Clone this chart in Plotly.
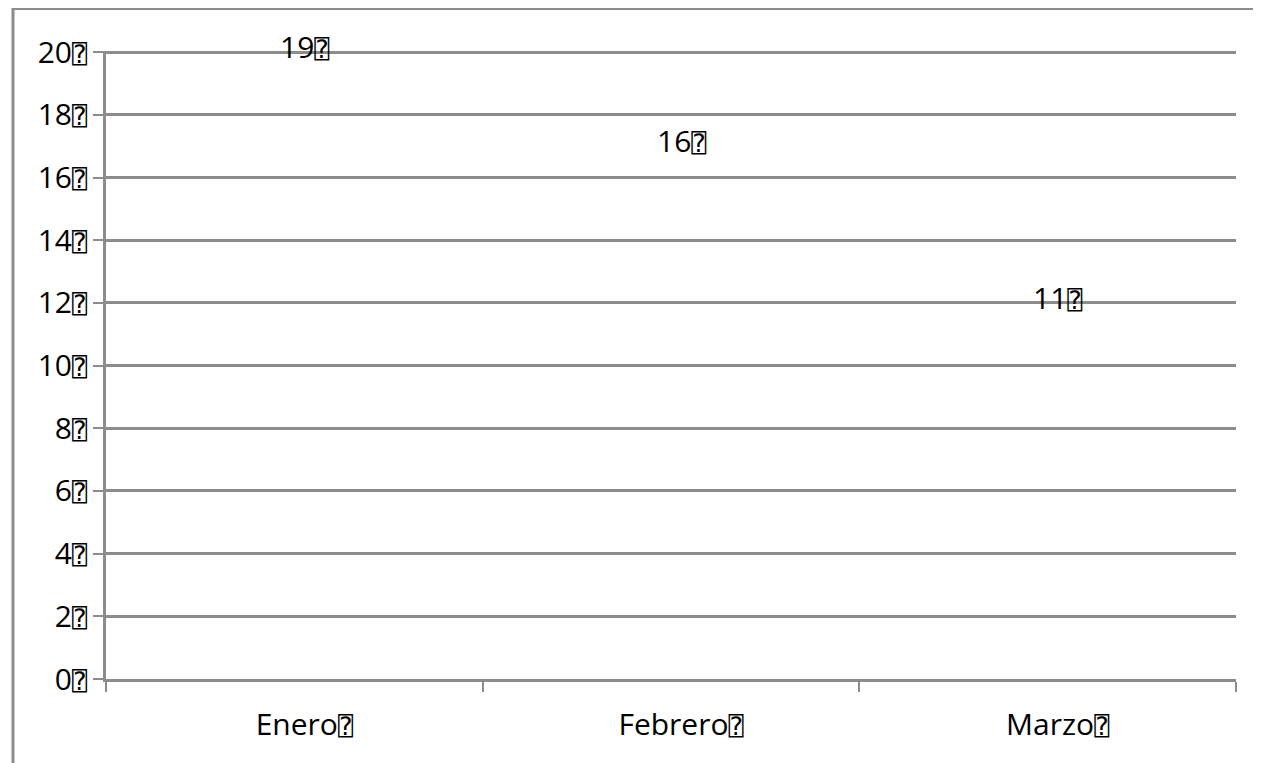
import plotly.graph_objects as go

categories = ["Enero", "Febrero", "Marzo"]
values = [19, 16, 11]
y_ticks = [0, 2, 4, 6, 8, 10, 12, 14, 16, 18, 20]
BOX = "<span style='font-family:DejaVu Sans Mono;font-size:25px'>\u2370</span>"

FONT = "Open Sans, DejaVu Sans, sans-serif"
GRID = "#8c8c8c"
FS = 30

W, H = 1253, 755
ML, MR, MT, MB = 98, 25, 44, 84
PW, PH = W - ML - MR, H - MT - MB
SHIFT = 10 / (PW / 3)  # category units for a 10px shift
YMAX = 20.04

fig = go.Figure()
fig.add_trace(go.Scatter(
    x=categories, y=values, mode="markers",
    marker=dict(size=1, color="rgba(0,0,0,0)"),
    showlegend=False, hoverinfo="skip",
))
fig.add_trace(go.Scatter(
    x=categories, y=values, mode="markers", xaxis="x2",
    marker=dict(size=1, color="rgba(0,0,0,0)"),
    showlegend=False, hoverinfo="skip",
))

for c, v in zip(categories, values):
    fig.add_annotation(x=c, y=v, text=f"{v}{BOX}", showarrow=False,
                       yshift=37, xshift=10,
                       font=dict(family=FONT, size=FS, color="black"))

fig.update_layout(
    width=W, height=H,
    margin=dict(l=ML, r=MR, t=MT - 1, b=MB),
    paper_bgcolor="white", plot_bgcolor="white",
    font=dict(family=FONT, size=FS, color="black"),
    xaxis=dict(
        type="category", categoryorder="array", categoryarray=categories,
        tickson="boundaries", ticks="outside", ticklen=10, tickwidth=2,
        tickcolor=GRID, showgrid=False, showline=True, linecolor=GRID,
        linewidth=3, showticklabels=False, range=[-0.5, 2.5],
        zeroline=False,
    ),
    xaxis2=dict(
        type="category", categoryorder="array", categoryarray=categories,
        overlaying="x", anchor="y", side="bottom",
        tickmode="array", tickvals=categories,
        ticktext=[f"{c}{BOX}" for c in categories],
        ticks="", showgrid=False, showline=False, zeroline=False,
        range=[-0.5 - SHIFT, 2.5 - SHIFT], ticklabelstandoff=25,
    ),
    yaxis=dict(
        range=[0, YMAX], tickmode="array", tickvals=y_ticks,
        ticktext=[f"{t}{BOX}" for t in y_ticks],
        ticks="outside", ticklen=10, tickwidth=2, tickcolor=GRID,
        showgrid=True, gridcolor=GRID, gridwidth=3,
        showline=True, linecolor=GRID, linewidth=3, zeroline=False,
        ticklabelstandoff=0,
    ),
    shapes=[
        dict(type="line", xref="paper", yref="paper", x0=(13 - 106) / PW, x1=1.1,
             y0=1 + (52 - 9.5) / PH, y1=1 + (52 - 9.5) / PH,
             line=dict(color=GRID, width=3)),
        dict(type="line", xref="paper", yref="paper", x0=(13 - 106) / PW,
             x1=(13 - 106) / PW, y0=-0.3, y1=1 + (52 - 8) / PH,
             line=dict(color=GRID, width=3)),
    ],
)

fig.write_html("out.html")
